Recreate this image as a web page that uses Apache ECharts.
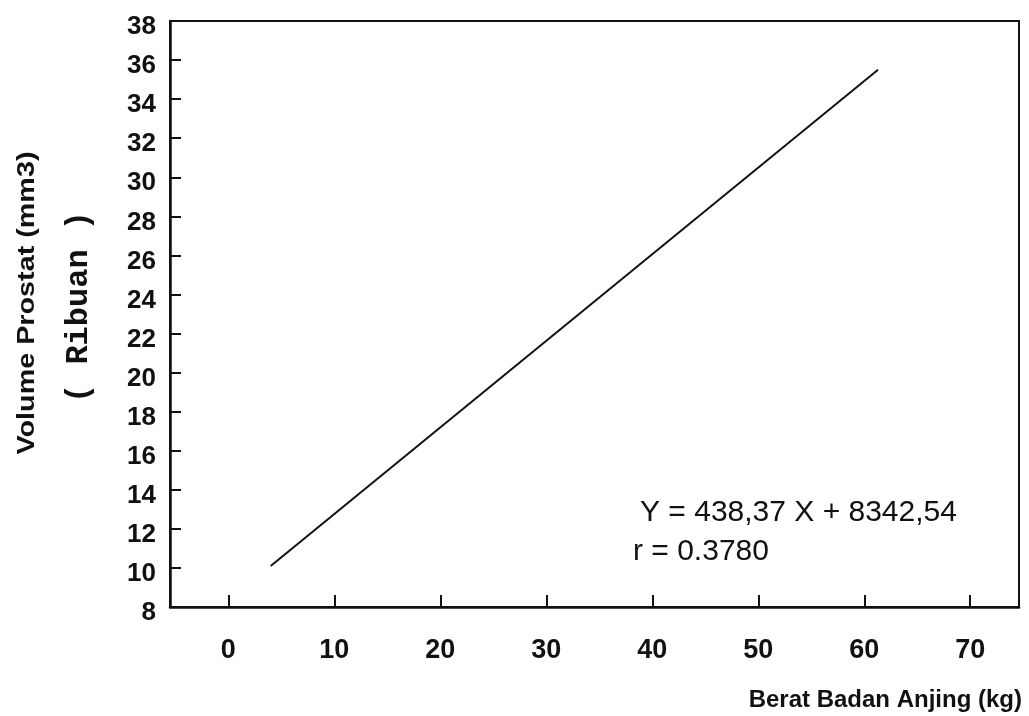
<!DOCTYPE html>
<html>
<head>
<meta charset="utf-8">
<script src="https://cdn.jsdelivr.net/npm/echarts@6/dist/echarts.min.js"></script>
<style>
  html, body { margin: 0; padding: 0; background: #fff; }
  #chart { width: 1029px; height: 716px; }
</style>
</head>
<body>
<div id="chart"></div>
<script>
// garis regresi (ribuan mm3 vs kg)
const beratX = [4, 61.3]
const volumeY = [10.1, 35.5]
const xTicks = [0, 10, 20, 30, 40, 50, 60, 70]
const persamaan = 'Y = 438,37 X + 8342,54'
const korelasi = 'r = 0.3780'

const chart = echarts.init(document.getElementById('chart'))

const option = {
  animation: false,
  backgroundColor: '#fff',
  grid: {
    left: 170,
    right: 10,
    top: 21,
    bottom: 109,
    show: true,
    borderColor: '#111',
    borderWidth: 2
  },
  xAxis: {
    type: 'value',
    min: -5.5,
    max: 74.6,
    splitLine: { show: false },
    axisLine: { show: true, onZero: false, lineStyle: { color: '#111', width: 2.5 } },
    axisTick: {
      show: true,
      inside: true,
      length: 12,
      customValues: xTicks,
      lineStyle: { color: '#111', width: 2 }
    },
    axisLabel: {
      customValues: xTicks,
      margin: 30,
      color: '#111',
      fontFamily: 'Liberation Sans, Arial, sans-serif',
      fontWeight: 'bold',
      fontSize: 27
    }
  },
  yAxis: {
    type: 'value',
    min: 8,
    max: 38,
    interval: 2,
    splitLine: { show: false },
    axisLine: { show: true, onZero: false, lineStyle: { color: '#111', width: 2.5 } },
    axisTick: {
      show: true,
      inside: true,
      length: 11,
      lineStyle: { color: '#111', width: 2 }
    },
    axisLabel: {
      margin: 14,
      color: '#111',
      verticalAlign: 'top',
      lineHeight: 12,
      fontFamily: 'Liberation Sans, Arial, sans-serif',
      fontWeight: 'bold',
      fontSize: 26
    }
  },
  graphic: [
    {
      type: 'text',
      x: 28,
      y: 303,
      rotation: Math.PI / 2,
      scaleX: 1.25,
      style: {
        text: 'Volume Prostat (mm3)',
        fill: '#111',
        align: 'center',
        verticalAlign: 'middle',
        font: 'bold 23px "Liberation Sans", Arial, sans-serif'
      }
    },
    {
      type: 'text',
      x: 79,
      y: 307,
      rotation: Math.PI / 2,
      style: {
        text: '( Ribuan )',
        fill: '#111',
        align: 'center',
        verticalAlign: 'middle',
        font: 'bold 32px "Liberation Mono", "Courier New", monospace'
      }
    },
    {
      type: 'text',
      x: 1022,
      y: 700,
      style: {
        text: 'Berat Badan Anjing (kg)',
        fill: '#111',
        align: 'right',
        verticalAlign: 'middle',
        font: 'bold 24px "Liberation Sans", Arial, sans-serif'
      }
    },
    {
      type: 'text',
      x: 640,
      y: 513,
      style: {
        text: persamaan,
        fill: '#111',
        align: 'left',
        verticalAlign: 'middle',
        font: '30px "Liberation Sans", Arial, sans-serif'
      }
    },
    {
      type: 'text',
      x: 633,
      y: 552,
      style: {
        text: korelasi,
        fill: '#111',
        align: 'left',
        verticalAlign: 'middle',
        font: '30px "Liberation Sans", Arial, sans-serif'
      }
    }
  ],
  series: [
    {
      type: 'line',
      data: beratX.map((x, i) => [x, volumeY[i]]),
      showSymbol: false,
      lineStyle: { color: '#111', width: 2 }
    }
  ]
}

chart.setOption(option)
</script>
</body>
</html>
